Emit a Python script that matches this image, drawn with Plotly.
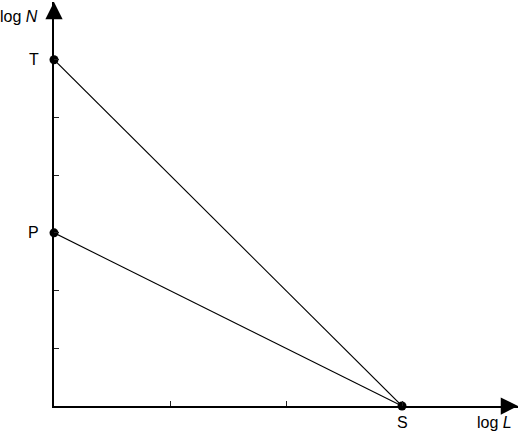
import plotly.graph_objects as go

# point labels and their positions in axis units
point_names = ["T", "P", "S"]
point_x = [0, 0, 3]
point_y = [6, 3, 0]

# the two lines run from T and P down to S
line_from = ["T", "P"]
line_to = "S"

x_ticks = [1, 2, 3]
y_ticks = [1, 2, 3, 4, 5, 6]
x_label = "log <i>L</i>"
y_label = "log <i>N</i>"

font = dict(family="Liberation Sans, Arial, sans-serif", size=16, color="black")

pts = dict(zip(point_names, zip(point_x, point_y)))

fig = go.Figure()
for name in line_from:
    x0, y0 = pts[name]
    x1, y1 = pts[line_to]
    fig.add_trace(go.Scatter(x=[x0, x1], y=[y0, y1], mode="lines",
                             line=dict(color="black", width=1.1),
                             hoverinfo="skip", showlegend=False))

fig.add_trace(go.Scatter(x=point_x, y=point_y, mode="markers",
                         marker=dict(color="black", size=9),
                         cliponaxis=False, showlegend=False))

# text next to the points
for name, x, y in zip(point_names, point_x, point_y):
    if y == 0:
        fig.add_annotation(x=x, y=y, text=name, showarrow=False,
                           yanchor="top", yshift=-6, font=font)
    else:
        fig.add_annotation(x=x, y=y, text=name, showarrow=False,
                           xanchor="right", xshift=-13, font=font)

# axis arrows (filled triangles)
arrow = dict(showarrow=True, arrowhead=2, arrowsize=2.3, arrowwidth=1.5,
             arrowcolor="black", text="", axref="x", ayref="y")
fig.add_annotation(x=4, y=0, ax=3.85, ay=0, **arrow)
fig.add_annotation(x=0, y=7, ax=0, ay=6.7, **arrow)

fig.add_annotation(x=4, y=0, text=x_label, showarrow=False, xanchor="right",
                   xshift=-4, yanchor="top", yshift=-6, font=font)
fig.add_annotation(x=0, y=6.75, text=y_label, showarrow=False, xanchor="right",
                   xshift=-14, font=font)

axis_style = dict(showgrid=False, zeroline=False, showline=True,
                  linecolor="black", linewidth=1.5, ticks="inside",
                  ticklen=5, tickwidth=1, tickcolor="#222",
                  showticklabels=False, fixedrange=True)

fig.update_xaxes(range=[0, 4], tickvals=x_ticks, **axis_style)
fig.update_yaxes(range=[0, 7], tickvals=y_ticks, **axis_style)

fig.update_layout(width=520, height=434,
                  margin=dict(l=54, r=2, t=2, b=28),
                  plot_bgcolor="white", paper_bgcolor="white",
                  font=font, showlegend=False)

fig.write_html("out.html", config=dict(displayModeBar=False),
               post_script="document.body.style.margin='0';")
